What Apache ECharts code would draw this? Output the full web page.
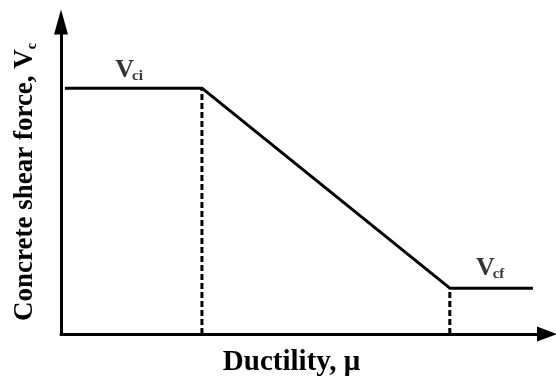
<!DOCTYPE html>
<html>
<head>
<meta charset="utf-8">
<script src="https://cdn.jsdelivr.net/npm/echarts@6/dist/echarts.min.js"></script>
<style>
html,body{margin:0;padding:0;background:#fff;}
#c{width:556px;height:383px;}
</style>
</head>
<body>
<div id="c"></div>
<script>
// Data (arbitrary units)
const curveX = [0.8, 29, 80, 97.1];
const curveY = [78.8, 78.8, 14.7, 14.7];
const dashAX = [29, 29];
const dashAY = [0, 78.8];
const dashBX = [80, 80];
const dashBY = [0, 14.7];
const labelX = [14.0, 88.3];
const labelY = [84.5, 21];
const labelText = ['{v|V}{s|ci}', '{v|V}{s|cf}'];
const xName = 'Ductility, \u03bc';
const yName = 'Concrete shear force, {v|V}{s|c}';

const font = '"Liberation Serif", "Times New Roman", serif';
const zip = (a, b) => a.map((v, i) => [v, b[i]]);

const chart = echarts.init(document.getElementById('c'));
chart.setOption({
  animation: false,
  grid: {left: 61, right: 9, top: 22, bottom: 49},
  xAxis: {
    type: 'value', min: 0, max: 100,
    name: xName, nameLocation: 'middle', nameGap: 14,
    nameTextStyle: {fontFamily: font, fontWeight: 'bold', fontSize: 29, color: '#000',
      verticalAlign: 'top', padding: [0, 25, 0, 0]},
    axisLine: {show: true, symbol: ['none', 'triangle'], symbolSize: [15, 20],
      lineStyle: {color: '#000', width: 3}},
    axisTick: {show: false}, axisLabel: {show: false}, splitLine: {show: false}
  },
  yAxis: {
    type: 'value', min: 0, max: 100,
    name: yName, nameLocation: 'middle', nameGap: 22,
    nameTextStyle: {fontFamily: font, fontWeight: 'bold', fontSize: 27, color: '#000',
      padding: [0, 8, 0, 0],
      rich: {
        v: {fontFamily: font, fontWeight: 'bold', fontSize: 27, color: '#000'},
        s: {fontFamily: font, fontWeight: 'bold', fontSize: 14, color: '#000', verticalAlign: 'bottom'}
      }},
    axisLine: {show: true, symbol: ['none', 'triangle'], symbolSize: [14, 25],
      lineStyle: {color: '#000', width: 3}},
    axisTick: {show: false}, axisLabel: {show: false}, splitLine: {show: false}
  },
  series: [
    {type: 'line', data: zip(curveX, curveY), symbol: 'none',
      lineStyle: {color: '#000', width: 3}},
    {type: 'line', data: zip(dashAX, dashAY), symbol: 'none',
      lineStyle: {color: '#000', width: 3, type: [6, 3]}},
    {type: 'line', data: zip(dashBX, dashBY), symbol: 'none',
      lineStyle: {color: '#000', width: 3, type: [6, 3]}},
    {type: 'scatter', data: zip(labelX, labelY), symbolSize: 0,
      label: {show: true, position: 'inside',
        formatter: p => labelText[p.dataIndex],
        rich: {
          v: {fontFamily: font, fontWeight: 'bold', fontSize: 26, color: '#000'},
          s: {fontFamily: font, fontWeight: 'bold', fontSize: 15, color: '#000', verticalAlign: 'bottom', padding: [0, 0, 0, -2]}
        }}}
  ]
});
</script>
</body>
</html>
